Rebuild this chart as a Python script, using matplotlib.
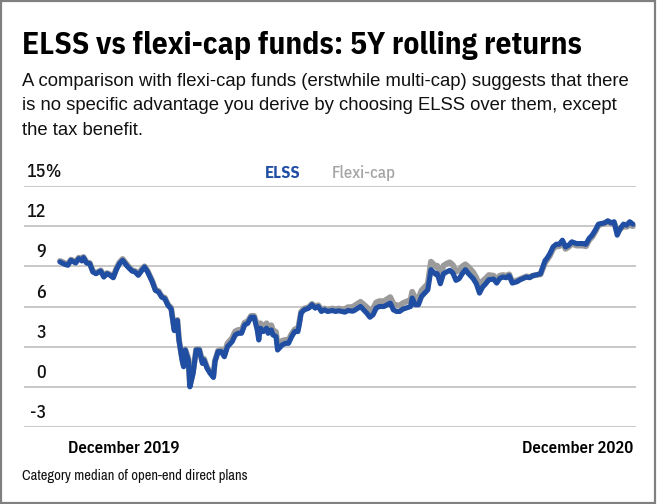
import matplotlib
matplotlib.use("Agg")
import matplotlib.pyplot as plt
import matplotlib.transforms as mtransforms
from matplotlib.patches import Rectangle
import pandas as pd

# calendar day offsets from 31 Dec 2019
DAYS = [0, 3, 5, 7, 10, 12, 14, 15, 17, 19, 21, 23, 26, 28, 30, 32, 34, 36, 38, 40,
        43, 46, 48, 50, 52, 54, 56, 59, 61, 63, 65, 67, 69, 71, 73, 75, 76, 78, 79, 80,
        82, 83, 85, 87, 89, 91, 92, 94, 96, 98, 99, 101, 103, 105, 107, 110, 112, 114, 116, 118,
        120, 122, 124, 126, 127, 128, 130, 132, 133, 135, 136, 138, 139, 142, 144, 146, 148, 150, 152, 153,
        154, 156, 159, 161, 163, 165, 167, 169, 171, 174, 176, 178, 180, 182, 184, 187, 188, 192, 194, 196,
        198, 200, 202, 204, 207, 209, 211, 213, 215, 217, 219, 221, 224, 225, 227, 229, 231, 233, 235, 236,
        237, 240, 241, 243, 245, 247, 249, 251, 253, 255, 257, 259, 261, 264, 266, 268, 270, 272, 274, 277,
        279, 281, 283, 285, 287, 289, 292, 294, 296, 298, 300, 302, 304, 307, 308, 310, 311, 313, 315, 317,
        319, 321, 323, 325, 327, 330, 332, 334, 336, 338, 340, 342, 344, 346, 348, 350, 352, 354, 356, 358,
        360, 362, 364, 366]

ELSS = [9.33, 9.15, 9.08, 9.45, 9.25, 9.58, 9.4, 9.65, 9.25, 9.2, 8.58, 8.45, 8.65, 8.2, 8.45, 8.33, 8.15, 8.75, 9.2, 9.45,
        9.0, 8.65, 8.58, 8.33, 8.65, 8.95, 8.58, 7.83, 7.2, 7.08, 6.7, 6.58, 6.08, 5.83, 4.2, 4.95, 3.5, 2.0, 1.5, 2.75,
        2.0, 0.0, 1.0, 2.75, 2.75, 1.75, 2.0, 1.38, 1.0, 0.7, 1.88, 2.63, 2.63, 2.25, 3.0, 3.38, 3.88, 4.0, 4.0, 4.63,
        4.75, 5.2, 5.2, 4.25, 3.5, 4.38, 4.13, 4.38, 4.0, 4.25, 3.88, 3.75, 2.75, 3.13, 3.25, 3.25, 3.75, 4.13, 4.13, 4.75,
        5.5, 5.75, 5.88, 6.13, 5.88, 6.0, 5.63, 5.75, 5.63, 5.7, 5.63, 5.68, 5.63, 5.58, 5.7, 5.65, 5.7, 6.0, 5.75, 5.5,
        5.2, 5.38, 5.88, 6.0, 6.0, 6.13, 6.25, 5.75, 5.63, 5.63, 5.8, 5.88, 6.0, 6.63, 6.13, 6.13, 6.75, 7.0, 7.25, 8.0,
        8.75, 8.4, 8.45, 7.7, 8.45, 8.58, 8.7, 8.5, 7.95, 8.08, 8.45, 8.75, 8.45, 8.08, 7.7, 7.0, 7.45, 7.7, 8.0, 8.05,
        7.75, 8.1, 8.2, 8.15, 8.3, 7.75, 7.85, 8.0, 8.1, 8.2, 8.15, 8.3, 8.35, 8.45, 8.8, 9.45, 9.58, 9.95, 10.45, 10.65,
        10.65, 10.95, 10.45, 10.58, 10.83, 10.7, 10.7, 10.7, 10.65, 11.08, 11.33, 11.7, 12.15, 12.2, 12.25, 12.4, 12.25, 12.33, 11.33, 11.83,
        12.15, 12.08, 12.33, 12.15]

FLEXI = [9.4, 9.25, 9.15, 9.5, 9.35, 9.65, 9.5, 9.7, 9.3, 9.25, 8.65, 8.5, 8.7, 8.3, 8.5, 8.4, 8.2, 8.85, 9.3, 9.55,
         9.1, 8.7, 8.65, 8.4, 8.75, 9.0, 8.65, 7.9, 7.25, 7.15, 6.75, 6.65, 6.15, 5.9, 4.3, 5.0, 3.55, 2.1, 1.6, 2.8,
         2.1, 0.1, 1.1, 2.8, 2.8, 1.85, 2.1, 1.45, 1.1, 0.8, 1.95, 2.7, 2.75, 2.4, 3.25, 3.65, 4.15, 4.25, 4.25, 4.8,
         4.9, 5.3, 5.3, 4.6, 3.9, 4.75, 4.5, 4.75, 4.4, 4.6, 4.25, 4.1, 3.15, 3.45, 3.5, 3.5, 3.95, 4.3, 4.3, 4.9,
         5.6, 5.85, 5.95, 6.2, 5.95, 6.1, 5.75, 5.85, 5.75, 5.85, 5.8, 5.85, 5.8, 5.8, 5.95, 5.95, 6.05, 6.35, 6.15, 5.95,
         5.65, 5.85, 6.3, 6.4, 6.4, 6.55, 6.7, 6.2, 6.1, 6.05, 6.25, 6.35, 6.5, 7.1, 6.6, 6.6, 7.2, 7.45, 7.7, 8.5,
         9.35, 9.0, 9.05, 8.35, 9.05, 9.2, 9.3, 9.1, 8.6, 8.7, 9.0, 9.15, 8.95, 8.55, 8.15, 7.5, 7.9, 8.1, 8.35, 8.3,
         8.0, 8.3, 8.35, 8.3, 8.4, 7.85, 7.95, 8.05, 8.15, 8.25, 8.2, 8.3, 8.35, 8.4, 8.7, 9.3, 9.45, 9.8, 10.3, 10.5,
         10.5, 10.8, 10.3, 10.45, 10.7, 10.55, 10.55, 10.55, 10.5, 10.95, 11.2, 11.6, 12.05, 12.15, 12.2, 12.35, 12.2, 12.25, 11.6, 11.8,
         12.0, 11.95, 12.1, 12.0]

Y_TICKS = [-3, 0, 3, 6, 9, 12, 15]
X_LABELS = ["December 2019", "December 2020"]

TITLE = "ELSS vs flexi-cap funds: 5Y rolling returns"
SUBTITLE = ["A comparison with flexi-cap funds (erstwhile multi-cap) suggests that there",
            "is no specific advantage you derive by choosing ELSS over them, except",
            "the tax benefit."]
NOTE = "Category median of open-end direct plans"

BLUE = "#1f4ea3"
GREY = "#9b9b9b"
COND = ["IBM Plex Sans Condensed", "DejaVu Sans"]
NARROW = ["Archivo Narrow", "DejaVu Sans"]
PLAIN = ["Liberation Sans", "DejaVu Sans"]

W, H = 660, 504
fig = plt.figure(figsize=(W / 100, H / 100), dpi=100)


def fx(px):
    return px / W


def fy(py):
    return 1 - py / H


# outer frame
fig.patches.append(Rectangle((fx(1), fy(503)), fx(654), 502 / H, transform=fig.transFigure,
                             fill=False, edgecolor="#808080", linewidth=1.6))

fig.text(fx(22), fy(54), TITLE, fontsize=22.6, fontweight="bold", family=COND, va="baseline")
for i, line in enumerate(SUBTITLE):
    fig.text(fx(22), fy(86 + 24.5 * i), line, fontsize=13.3, family=PLAIN, va="baseline", color="#111111")
fig.text(fx(22), fy(480), NOTE, fontsize=10.5, family=NARROW, va="baseline", color="#111111")

ax = fig.add_axes([fx(24), fy(427), fx(636) - fx(24), (427 - 186) / H])
dates = pd.Timestamp("2019-12-31") + pd.to_timedelta(DAYS, unit="D")
ax.plot(dates, FLEXI, color=GREY, lw=4.2, solid_joinstyle="round", solid_capstyle="round", zorder=3)
ax.plot(dates, ELSS, color=BLUE, lw=3.7, solid_joinstyle="round", solid_capstyle="round", zorder=4)

ax.set_ylim(Y_TICKS[0], Y_TICKS[-1])
ax.set_xlim(dates[0] - pd.Timedelta(days=23), dates[-1] + pd.Timedelta(days=2))
for v in Y_TICKS:
    ax.axhline(v, color="#c8c8c8", lw=1.4, zorder=1)
for s in ax.spines.values():
    s.set_visible(False)
ax.set_yticks([])
ax.set_xticks([dates[0], dates[-1]])
ax.set_xticklabels(X_LABELS, fontsize=12, fontweight="semibold", family=COND)
ax.tick_params(axis="x", length=0, pad=10)
labs = ax.get_xticklabels()
labs[0].set_ha("left")
labs[0].set_transform(labs[0].get_transform() + mtransforms.ScaledTranslation(8 / 100, 0, fig.dpi_scale_trans))
labs[1].set_ha("right")

# y labels sit above the gridlines
lab_tr = mtransforms.blended_transform_factory(fig.transFigure, ax.transData)
off = mtransforms.ScaledTranslation(0, 5 / 100, fig.dpi_scale_trans)
for v in Y_TICKS:
    ax.text(fx(46), v, str(v), transform=lab_tr + off, ha="right", va="bottom",
            fontsize=13, fontweight="medium", family=COND, color="#111111")
    if v == Y_TICKS[-1]:
        ax.text(fx(45), v, "%", transform=lab_tr + off, ha="left", va="bottom",
                fontsize=13, fontweight="medium", family=COND, color="#111111")

# legend
fig.text(fx(300), fy(178), "ELSS", color=BLUE, fontsize=12, fontweight="bold", family=COND,
         ha="right", va="baseline")
fig.text(fx(332), fy(178), "Flexi-cap", color="#a5a5a5", fontsize=12, fontweight="medium", family=COND,
         ha="left", va="baseline")

fig.savefig("out.png", dpi=100)
